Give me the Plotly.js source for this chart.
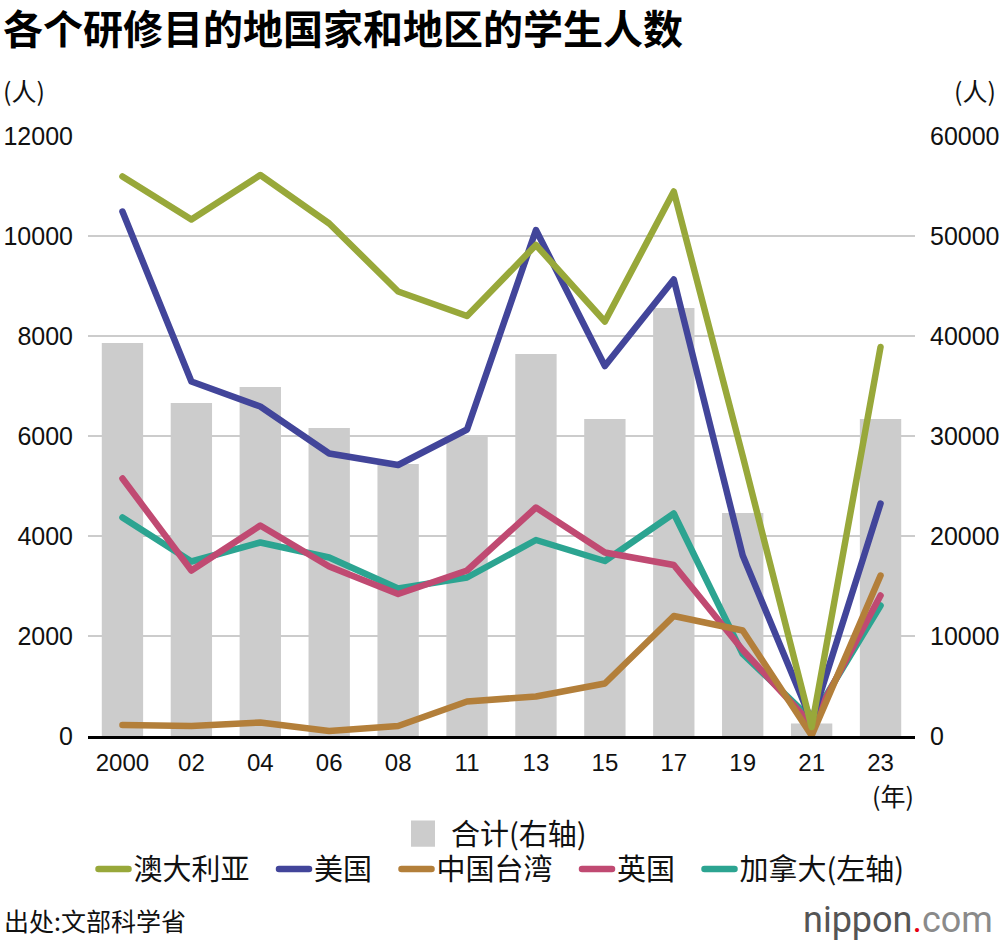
<!DOCTYPE html>
<html>
<head>
<meta charset="utf-8">
<script src="https://cdn.plot.ly/plotly-3.0.1.min.js"></script>
<style>
    html, body { margin: 0; padding: 0; background: #fff; }
    #studyChart { width: 1000px; height: 946px; }
    .scatterlayer .js-line, .legend2 .js-line { stroke-linejoin: round !important; stroke-linecap: round !important; }
    .legend .legendpoints path { transform: scale(4, 2.2); }
</style>
</head>
<body>
<div id="studyChart"></div>
<script>
    // ── Data ──
    const years = ['2000', '02', '04', '06', '08', '11', '13', '15', '17', '19', '21', '23'];

    const totalAll  = [39300, 33300, 34900, 30800, 27200, 30000, 38200, 31700, 42800, 22300, 1250, 31700];
    const australia = [11190, 10330, 11220, 10250, 8890, 8400, 9820, 8290, 10890, 5600, 180, 7780];
    const usa       = [10490, 7090, 6590, 5650, 5420, 6130, 10120, 7400, 9130, 3610, 300, 4650];
    const taiwan    = [220, 200, 270, 100, 200, 690, 790, 1050, 2400, 2110, 10, 3210];
    const uk        = [5150, 3310, 4210, 3390, 2840, 3310, 4570, 3670, 3420, 1720, 230, 2810];
    const canada    = [4370, 3490, 3870, 3570, 2950, 3170, 3920, 3500, 4450, 1640, 330, 2610];

    const FONT = 'Liberation Sans, Noto Sans CJK SC, sans-serif';
    const CJK  = 'Noto Sans CJK SC, sans-serif';
    const GAP  = '\u00a0\u00a0\u00a0';   // extra room between legend entries

    function lineTrace(name, y, color) {
        return {
            x: years, y: y, name: name,
            type: 'scatter', mode: 'lines',
            yaxis: 'y2', legend: 'legend2',
            line: { color: color, width: 6.5 },
            hoverinfo: 'skip'
        };
    }

    // draw order: teal under, green on top
    const traces = [
        {
            x: years, y: totalAll,
            name: '合计(右轴)',
            type: 'bar', yaxis: 'y', legend: 'legend',
            marker: { color: '#cccccc' },
            hoverinfo: 'skip'
        },
        lineTrace('加拿大(左轴)', canada, '#2ca491'),
        lineTrace('英国' + GAP, uk, '#c04a72'),
        lineTrace('中国台湾' + GAP, taiwan, '#b37f3a'),
        lineTrace('美国' + GAP, usa, '#42459a'),
        lineTrace('澳大利亚' + GAP, australia, '#98a83a')
    ];

    const layout = {
        width: 1000, height: 946,
        margin: { t: 136, r: 85, b: 210, l: 88 },
        title: {
            text: '<b>各个研修目的地国家和地区的学生人数</b>',
            font: { family: CJK, size: 40, color: '#000' },
            x: 0.003, xanchor: 'left', xref: 'container',
            y: 0.968, yanchor: 'middle', yref: 'container'
        },
        bargap: 0.4,
        showlegend: true,
        xaxis: {
            type: 'category', range: [-0.5, 11.5],
            showgrid: false, ticks: '',
            showline: true, linecolor: '#000', linewidth: 3,
            tickfont: { family: FONT, size: 24, color: '#111' },
            ticklabelstandoff: 3
        },
        yaxis: {
            side: 'right', range: [0, 60000], dtick: 10000,
            tickformat: 'd', ticks: '',
            showgrid: true, gridcolor: '#cccccc', gridwidth: 2,
            zeroline: false, showline: false,
            tickfont: { family: FONT, size: 25, color: '#111' },
            ticklabelstandoff: 14
        },
        yaxis2: {
            overlaying: 'y', side: 'left', range: [0, 12000], dtick: 2000,
            tickformat: 'd', ticks: '',
            showgrid: false, zeroline: false, showline: false,
            tickfont: { family: FONT, size: 25, color: '#111' },
            ticklabelstandoff: 14
        },
        legend: {
            orientation: 'h', x: 0.5, xanchor: 'center', y: -0.163, yanchor: 'middle',
            font: { family: CJK, size: 29, color: '#111' },
            bgcolor: 'rgba(0,0,0,0)'
        },
        legend2: {
            orientation: 'h', x: 0.5, xanchor: 'center', y: -0.222, yanchor: 'middle',
            traceorder: 'reversed',
            font: { family: CJK, size: 29, color: '#111' },
            bgcolor: 'rgba(0,0,0,0)'
        },
        annotations: [
            { text: '(人)', xref: 'paper', yref: 'paper', x: -0.105, y: 1.077, xanchor: 'left', yanchor: 'middle',
              showarrow: false, font: { family: CJK, size: 25, color: '#111' } },
            { text: '(人)', xref: 'paper', yref: 'paper', x: 1.1, y: 1.077, xanchor: 'right', yanchor: 'middle',
              showarrow: false, font: { family: CJK, size: 25, color: '#111' } },
            { text: '(年)', xref: 'paper', yref: 'paper', x: 0.973, y: -0.098, xanchor: 'center', yanchor: 'middle',
              showarrow: false, font: { family: CJK, size: 25, color: '#111' } },
            { text: '出处:文部科学省', xref: 'paper', yref: 'paper', x: -0.104, y: -0.307, xanchor: 'left', yanchor: 'middle',
              showarrow: false, font: { family: CJK, size: 25, color: '#111' } },
            { text: 'nippon<span style="color:#e60012">.</span><span style="color:#8a8a8a">com</span>',
              xref: 'paper', yref: 'paper', x: 1.097, y: -0.307, xanchor: 'right', yanchor: 'middle',
              showarrow: false, font: { family: 'Roboto, sans-serif', size: 36, color: '#555' } }
        ],
        paper_bgcolor: '#fff',
        plot_bgcolor: '#fff',
        font: { family: FONT }
    };

    Plotly.newPlot('studyChart', traces, layout, { displayModeBar: false, staticPlot: true });
</script>
</body>
</html>
